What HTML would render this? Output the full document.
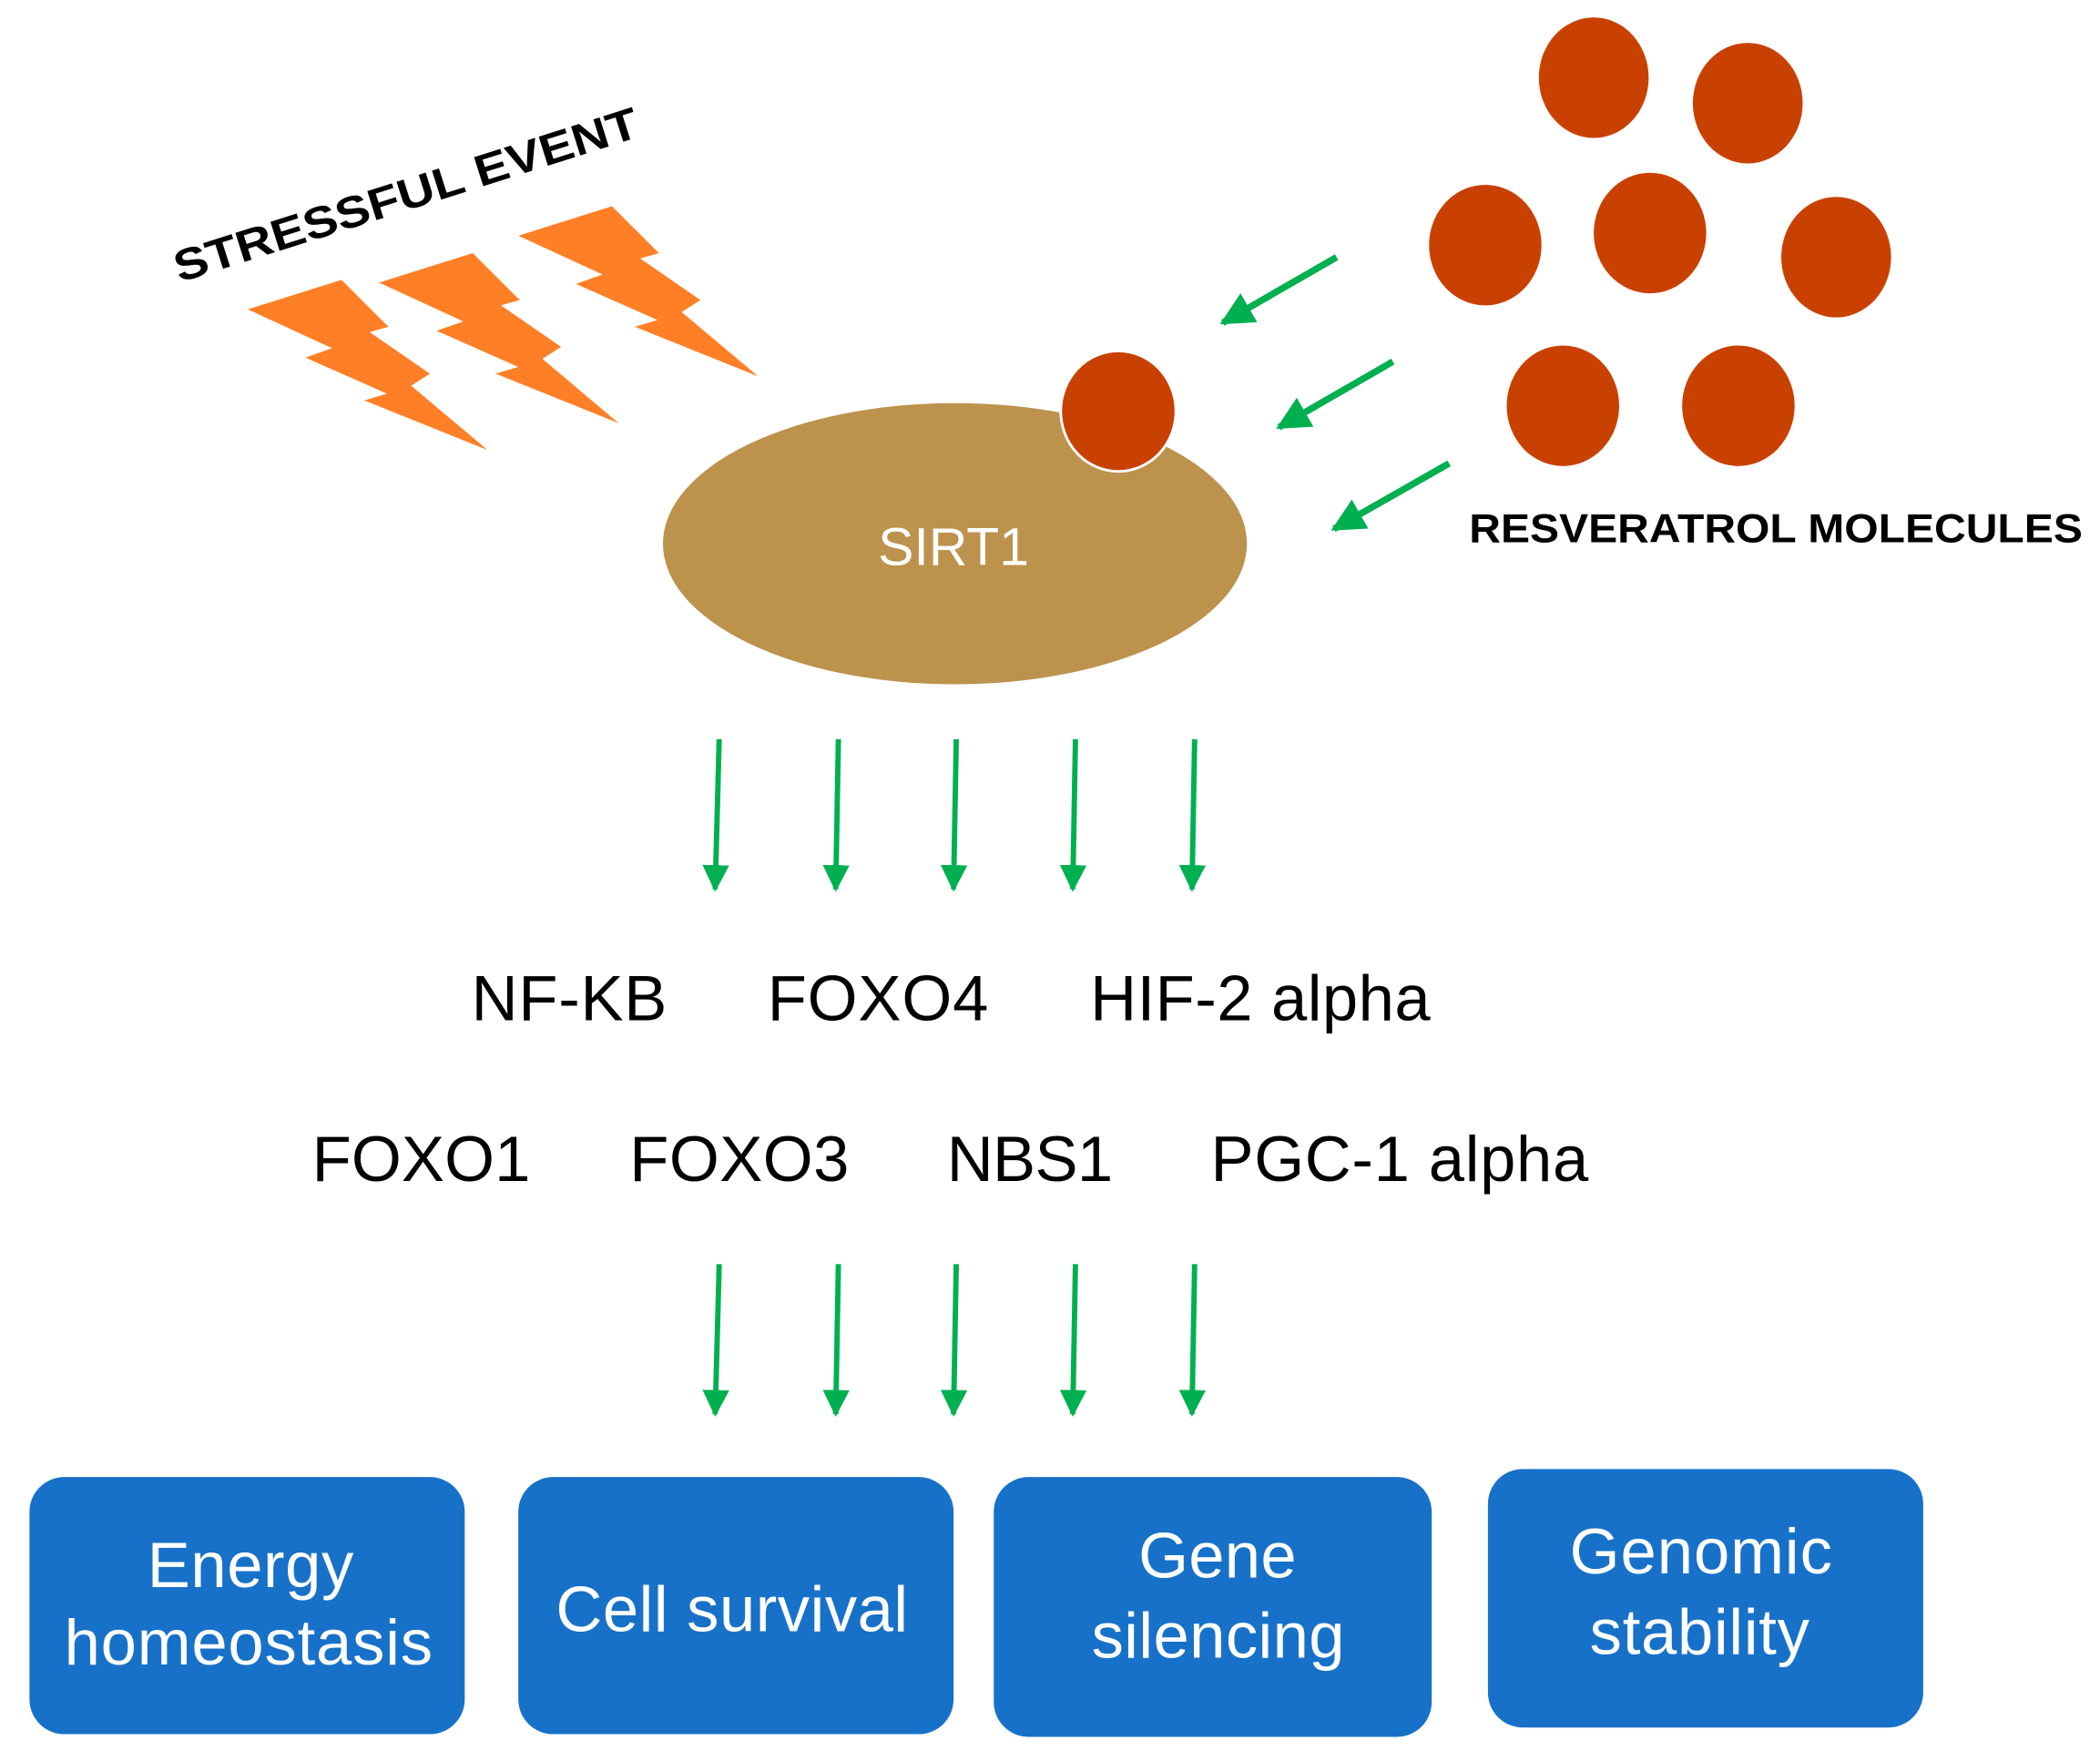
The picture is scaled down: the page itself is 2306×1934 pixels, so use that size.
<!DOCTYPE html>
<html><head><meta charset="utf-8"><style>html,body{margin:0;padding:0;background:#fff}svg{display:block}</style></head>
<body>
<svg width="2306" height="1934" viewBox="0 0 1568 1315" xmlns="http://www.w3.org/2000/svg" font-family="Liberation Sans, Arial, sans-serif">
<defs>
<marker id="ah" viewBox="0 0 10 10" refX="9" refY="5" markerWidth="5" markerHeight="5" orient="auto" markerUnits="strokeWidth">
<path d="M0,0 L10,5 L0,10 z" fill="#00B050"/></marker>
</defs>
<rect width="1568" height="1315" fill="#fff"/>
<g fill="#FF7F27">
<polygon id="b1" points="185,231 255,209 290,244 276,248 321,279 307,288 364,336 272,299 289,294 228,267 248,260"/>
<use href="#b1" transform="translate(98,-20)"/>
<use href="#b1" transform="translate(202,-55)"/>
</g>
<text x="0" y="0" font-size="33" font-weight="bold" transform="translate(134,211) rotate(-17.6)" textLength="362" lengthAdjust="spacingAndGlyphs">STRESSFUL EVENT</text>
<ellipse cx="713" cy="406" rx="218" ry="105" fill="#BC924D"/>
<text x="712" y="422" font-size="40" fill="#fff" text-anchor="middle">SIRT1</text>
<ellipse cx="835" cy="307" rx="43" ry="45" fill="#C94100" stroke="#fff" stroke-width="2"/>
<g fill="#C94100">
<ellipse cx="1190" cy="58" rx="41" ry="45"/>
<ellipse cx="1305" cy="77" rx="41" ry="45"/>
<ellipse cx="1109" cy="183" rx="42" ry="45"/>
<ellipse cx="1232" cy="174" rx="42" ry="45"/>
<ellipse cx="1371" cy="192" rx="41" ry="45"/>
<ellipse cx="1167" cy="303" rx="42" ry="45"/>
<ellipse cx="1298" cy="303" rx="42" ry="45"/>
</g>
<g stroke="#00B050" stroke-width="5" marker-end="url(#ah)">
<line x1="998" y1="192" x2="913" y2="241"/>
<line x1="1040" y1="270" x2="955" y2="319"/>
<line x1="1082" y1="346" x2="996" y2="395"/>
</g>
<text x="1097" y="405" font-size="30" font-weight="bold" textLength="458" lengthAdjust="spacingAndGlyphs">RESVERATROL MOLECULES</text>
<g stroke="#00B050" stroke-width="4" marker-end="url(#ah)">
<line x1="537" y1="552" x2="534" y2="664"/>
<line x1="626" y1="552" x2="624" y2="664"/>
<line x1="714" y1="552" x2="712" y2="664"/>
<line x1="803" y1="552" x2="801" y2="664"/>
<line x1="892" y1="552" x2="890" y2="664"/>
<line x1="537" y1="944" x2="534" y2="1056"/>
<line x1="626" y1="944" x2="624" y2="1056"/>
<line x1="714" y1="944" x2="712" y2="1056"/>
<line x1="803" y1="944" x2="801" y2="1056"/>
<line x1="892" y1="944" x2="890" y2="1056"/>
</g>
<g font-size="48" fill="#000" lengthAdjust="spacingAndGlyphs">
<text x="352" y="762" textLength="146">NF-KB</text>
<text x="573" y="762" textLength="165">FOXO4</text>
<text x="814" y="762" textLength="254">HIF-2 alpha</text>
<text x="233" y="882" textLength="163">FOXO1</text>
<text x="470" y="882" textLength="164">FOXO3</text>
<text x="707" y="882" textLength="124">NBS1</text>
<text x="904" y="882" textLength="282">PGC-1 alpha</text>
</g>
<g fill="#1771C9">
<rect x="22" y="1103" width="325" height="192" rx="26"/>
<rect x="387" y="1103" width="325" height="192" rx="26"/>
<rect x="742" y="1103" width="327" height="194" rx="26"/>
<rect x="1111" y="1097" width="325" height="193" rx="26"/>
</g>
<g font-size="48" fill="#fff">
<text x="110" y="1185" textLength="154">Energy</text>
<text x="48" y="1243" textLength="275">homeostasis</text>
<text x="415" y="1218" textLength="263">Cell survival</text>
<text x="850" y="1178" textLength="118">Gene</text>
<text x="815" y="1238" textLength="189">silencing</text>
<text x="1172" y="1175" textLength="196">Genomic</text>
<text x="1187" y="1235" textLength="164">stability</text>
</g>
</svg>
</body></html>
